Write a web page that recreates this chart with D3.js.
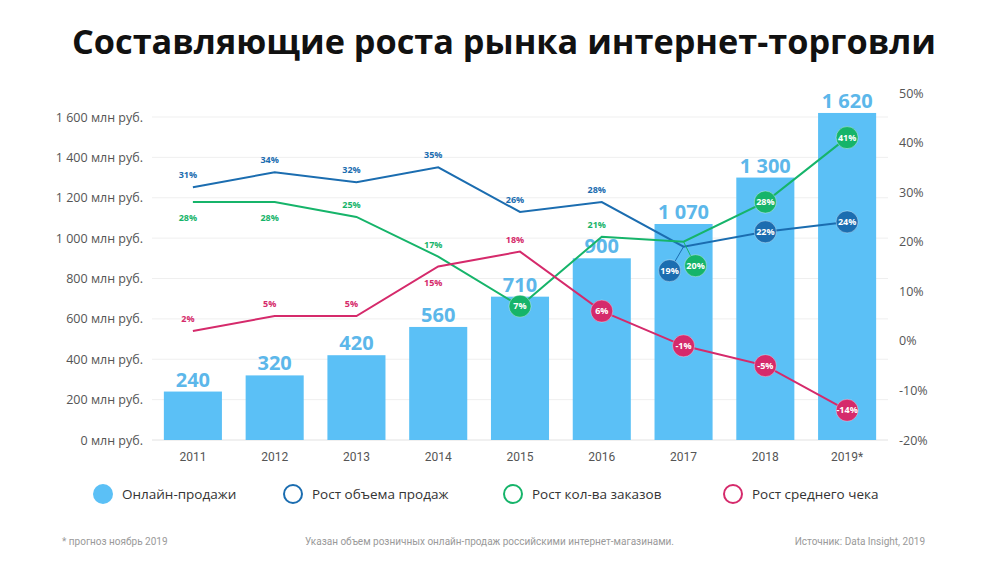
<!DOCTYPE html>
<html><head><meta charset="utf-8">
<script src="https://cdn.jsdelivr.net/npm/d3@7"></script>
<style>
body{margin:0;background:#fff;}
svg{display:block;font-family:"Open Sans",sans-serif;}
</style></head>
<body><svg id="c" width="1000" height="563"></svg>
<script>
const years = ["2011","2012","2013","2014","2015","2016","2017","2018","2019*"];
const sales = [240,320,420,560,710,900,1070,1300,1620];
const growthVolume = [31,34,32,35,26,28,19,22,24];
const growthOrders = [28,28,25,17,7,21,20,28,41];
const growthCheck = [2,5,5,15,18,6,-1,-5,-14];
const leftTicks = [0,200,400,600,800,1000,1200,1400,1600];
const rightTicks = [-20,-10,0,10,20,30,40,50];
const legendLabels = ["Онлайн-продажи","Рост объема продаж","Рост кол-ва заказов","Рост среднего чека"];

const svg = d3.select("#c");
const W=1000;
const x = d3.scaleBand().domain(years).range([152,888]).paddingInner(0.29).paddingOuter(0.145);
const yL = d3.scaleLinear().domain([0,1600]).range([440,117]);
const yR = d3.scaleLinear().domain([-20,50]).range([440,93]);

const C = {bar:"#5bc0f6", barLbl:"#5cb7ea", blue:"#1b6db0", green:"#16b46a", pink:"#d52a6b", axis:"#555"};

// title
svg.append("text").attr("x",504).attr("y",54).attr("text-anchor","middle")
  .attr("font-size",34).attr("font-weight",700).attr("fill","#111")
  .attr("textLength",864).attr("lengthAdjust","spacingAndGlyphs")
  .text("Составляющие роста рынка интернет-торговли");

// grid
svg.append("g").selectAll("line").data(leftTicks).join("line")
  .attr("x1",152).attr("x2",888).attr("y1",d=>yL(d)).attr("y2",d=>yL(d))
  .attr("stroke",d=>d===0?"#e2e2e2":"#efefef").attr("stroke-width",1);

// left axis
const fmt = d => d3.format(",")(d).replace(/,/g," ");
const gL = svg.append("g").attr("transform","translate(147,0)")
  .call(d3.axisLeft(yL).tickValues(leftTicks).tickSize(0).tickPadding(4).tickFormat(d=>fmt(d)+" млн руб."));
gL.select(".domain").remove();
gL.selectAll("text").attr("font-size",12.5).attr("fill",C.axis).attr("font-family","Open Sans");

// right axis
const gR = svg.append("g").attr("transform","translate(895,0)")
  .call(d3.axisRight(yR).tickValues(rightTicks).tickSize(0).tickPadding(4).tickFormat(d=>d+"%"));
gR.select(".domain").remove();
gR.selectAll("text").attr("font-size",12.5).attr("fill",C.axis).attr("font-family","Open Sans");

// x axis
const gX = svg.append("g").attr("transform","translate(0,449)")
  .call(d3.axisBottom(x).tickSize(0).tickPadding(3));
gX.select(".domain").remove();
gX.selectAll("text").attr("font-size",12).attr("fill",C.axis).attr("font-family","Roboto");

// bars
svg.append("g").selectAll("rect").data(sales).join("rect")
  .attr("x",(d,i)=>x(years[i])).attr("width",x.bandwidth())
  .attr("y",d=>yL(d)).attr("height",d=>yL(0)-yL(d)).attr("fill",C.bar);
svg.append("g").selectAll("text").data(sales).join("text")
  .attr("x",(d,i)=>x(years[i])+x.bandwidth()/2).attr("y",d=>yL(d)-5)
  .attr("text-anchor","middle").attr("font-size",20).attr("font-weight",700)
  .attr("fill",C.barLbl).text(d=>fmt(d));

// lines
const cx = i => x(years[i])+x.bandwidth()/2;
const series = [
  {vals:growthVolume, color:C.blue, modes:["a","a","a","a","a","a","cl","c","c"]},
  {vals:growthOrders, color:C.green, modes:["b","b","a","a","c","a","cr","c","c"]},
  {vals:growthCheck, color:C.pink, modes:["a","a","a","b","a","c","c","c","c"]}
];
const line = d3.line().x((d,i)=>cx(i)).y(d=>yR(d));
series.forEach(s=>{
  svg.append("path").datum(s.vals).attr("d",line).attr("fill","none")
    .attr("stroke",s.color).attr("stroke-width",2);
});
series.forEach(s=>{
  const g = svg.append("g");
  s.vals.forEach((v,i)=>{
    const m = s.modes[i];
    const px = cx(i), py = yR(v);
    if(m==="a"||m==="b"){
      g.append("text").attr("x",px-5).attr("y",m==="a"?py-9:py+19)
        .attr("text-anchor","middle").attr("font-size",9).attr("font-weight",700)
        .attr("fill",s.color).text(v+"%");
    } else {
      let ox=0, oy=0;
      if(m==="cl"){ox=-14;oy=24;}
      if(m==="cr"){ox=12;oy=24;}
      if(ox||oy){
        g.append("line").attr("x1",px).attr("y1",py).attr("x2",px+ox).attr("y2",py+oy)
          .attr("stroke",s.color).attr("stroke-width",1);
      }
      g.append("circle").attr("cx",px+ox).attr("cy",py+oy).attr("r",11)
        .attr("fill",s.color).attr("stroke","rgba(255,255,255,0.35)").attr("stroke-width",1);
      g.append("text").attr("x",px+ox).attr("y",py+oy+3.2).attr("text-anchor","middle")
        .attr("font-size",9).attr("font-weight",700).attr("fill","#fff").text(v+"%");
    }
  });
});

// legend
const legX = [103,293,513,733];
const legColors = [C.bar,C.blue,C.green,C.pink];
legendLabels.forEach((t,i)=>{
  svg.append("circle").attr("cx",legX[i]).attr("cy",494).attr("r",i===0?10:9)
    .attr("fill",i===0?C.bar:"none").attr("stroke",i===0?"none":legColors[i]).attr("stroke-width",2);
  svg.append("text").attr("x",legX[i]+19).attr("y",499).attr("font-size",13.5)
    .attr("fill","#333").text(t);
});

// footer
const ft = {size:10, color:"#9a9a9a", font:"Roboto"};
svg.append("text").attr("x",62).attr("y",545).attr("font-size",ft.size).attr("font-family",ft.font).attr("fill",ft.color).text("* прогноз ноябрь 2019");
svg.append("text").attr("x",305).attr("y",545).attr("font-size",ft.size).attr("font-family",ft.font).attr("fill",ft.color).text("Указан объем розничных онлайн-продаж российскими интернет-магазинами.");
svg.append("text").attr("x",925).attr("y",545).attr("text-anchor","end").attr("font-size",ft.size).attr("font-family",ft.font).attr("fill",ft.color).text("Источник: Data Insight, 2019");
</script></body></html>
